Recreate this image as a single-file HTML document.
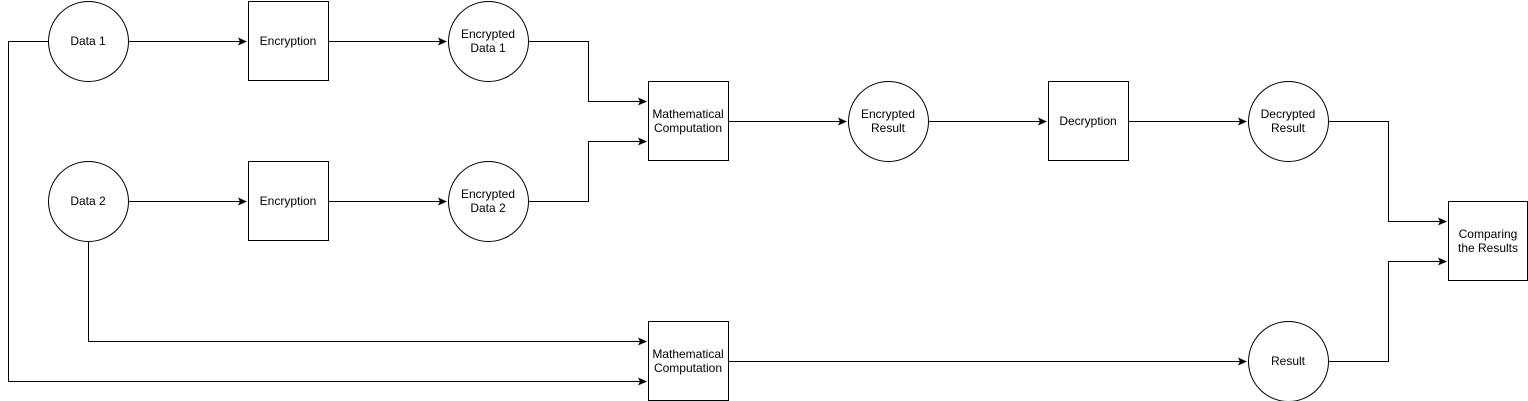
<!DOCTYPE html>
<html><head><meta charset="utf-8"><style>
html,body{margin:0;padding:0;background:#fff;}
svg{display:block;}
text{font-family:"Liberation Sans",Arial,sans-serif;font-size:12px;fill:#000;}
</style></head><body>
<svg width="1528" height="401" viewBox="0 0 1528 401" xmlns="http://www.w3.org/2000/svg">
<defs><marker id="a" markerWidth="10" markerHeight="10" refX="8" refY="4" orient="auto" markerUnits="userSpaceOnUse"><path d="M0,0 L9,4 L0,8 L2,4 Z" fill="#000"/></marker></defs>
<g fill="none" stroke="#000" stroke-width="1">
<path d="M128.5,41.5 H246" marker-end="url(#a)"/>
<path d="M328.5,41.5 H446" marker-end="url(#a)"/>
<path d="M128.5,201.5 H246" marker-end="url(#a)"/>
<path d="M328.5,201.5 H446" marker-end="url(#a)"/>
<path d="M528.5,41.5 H588.5 V101.5 H646" marker-end="url(#a)"/>
<path d="M528.5,201.5 H588.5 V141.5 H646" marker-end="url(#a)"/>
<path d="M728.5,121.5 H846" marker-end="url(#a)"/>
<path d="M928.5,121.5 H1046" marker-end="url(#a)"/>
<path d="M1128.5,121.5 H1246" marker-end="url(#a)"/>
<path d="M1328.5,121.5 H1388.5 V221.5 H1446" marker-end="url(#a)"/>
<path d="M1328.5,361.5 H1388.5 V261.5 H1446" marker-end="url(#a)"/>
<path d="M728.5,361.5 H1246" marker-end="url(#a)"/>
<path d="M48.5,41.5 H8.5 V381.5 H646" marker-end="url(#a)"/>
<path d="M88.5,241.5 V341.5 H646" marker-end="url(#a)"/>
<circle cx="88.5" cy="41.5" r="40"/>
<circle cx="88.5" cy="201.5" r="40"/>
<circle cx="488.5" cy="41.5" r="40"/>
<circle cx="488.5" cy="201.5" r="40"/>
<circle cx="888.5" cy="121.5" r="40"/>
<circle cx="1288.5" cy="121.5" r="40"/>
<circle cx="1288.5" cy="361.5" r="40"/>
<rect x="248.5" y="1.5" width="80" height="79"/>
<rect x="248.5" y="161.5" width="80" height="79"/>
<rect x="648.5" y="81.5" width="80" height="79"/>
<rect x="648.5" y="321.5" width="80" height="79"/>
<rect x="1048.5" y="81.5" width="80" height="79"/>
<rect x="1448.5" y="201.5" width="79" height="79"/>
</g>
<g text-anchor="middle">
<text x="88" y="45">Data 1</text>
<text x="88" y="205">Data 2</text>
<text x="288" y="45">Encryption</text>
<text x="288" y="205">Encryption</text>
<text x="488" y="38">Encrypted</text><text x="488" y="52">Data 1</text>
<text x="488" y="198">Encrypted</text><text x="488" y="212">Data 2</text>
<text x="688" y="118">Mathematical</text><text x="688" y="132">Computation</text>
<text x="688" y="358">Mathematical</text><text x="688" y="372">Computation</text>
<text x="888" y="118">Encrypted</text><text x="888" y="132">Result</text>
<text x="1088" y="125">Decryption</text>
<text x="1288" y="118">Decrypted</text><text x="1288" y="132">Result</text>
<text x="1288" y="365">Result</text>
<text x="1488" y="238">Comparing</text><text x="1488" y="252">the Results</text>
</g>
</svg>
</body></html>
